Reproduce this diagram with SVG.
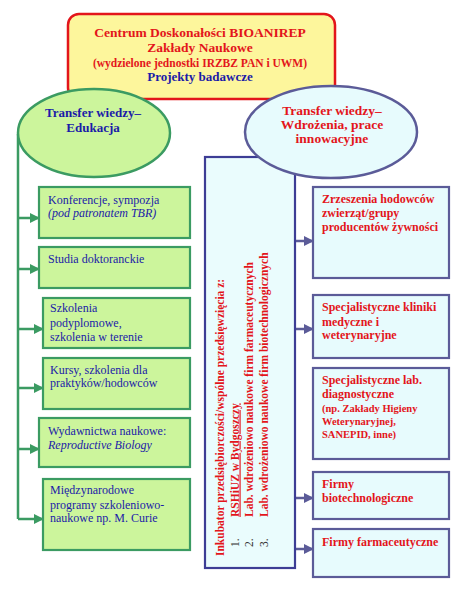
<svg xmlns="http://www.w3.org/2000/svg" width="468" height="595" viewBox="0 0 468 595">
<style>
.t{font-family:"Liberation Serif","Times New Roman",serif}
.b{font-weight:bold}
.red{fill:#e3151b}
.blue{fill:#1b1ba8}
.gbox{fill:#ccf59c;stroke:#3b9b62;stroke-width:2.2}
.cbox{fill:#e7fbfd;stroke:#5b5b98;stroke-width:2.2}
.gl{stroke:#3b9b62;stroke-width:2.5;fill:none}
.bl{stroke:#5b5b98;stroke-width:2.5;fill:none}
.gt{font-size:12px}
.rt{font-size:12px}
.vt{font-size:11.5px}
</style>
<defs>
<marker id="ga" viewBox="0 0 10 10" refX="9" refY="5" markerWidth="4" markerHeight="4" orient="auto" markerUnits="strokeWidth"><path d="M0,0L10,5L0,10z" fill="#3b9b62"/></marker>
<marker id="ba" viewBox="0 0 10 10" refX="9" refY="5" markerWidth="4" markerHeight="4" orient="auto" markerUnits="strokeWidth"><path d="M0,0L10,5L0,10z" fill="#5b5b98"/></marker>
</defs>
<rect width="468" height="595" fill="#ffffff"/>

<g id="top">
<rect x="68" y="14" width="267" height="85" rx="11" fill="#fdf69c" stroke="#e3151b" stroke-width="2.5"/>
<text class="t b red" x="200" y="37" font-size="13.5" text-anchor="middle">Centrum Doskonałości BIOANIREP</text>
<text class="t b red" x="200" y="52" font-size="13.5" text-anchor="middle">Zakłady Naukowe</text>
<text class="t b red" x="200" y="67" font-size="11.5" text-anchor="middle">(wydzielone jednostki IRZBZ PAN i UWM)</text>
<text class="t b blue" x="200" y="81" font-size="13" text-anchor="middle">Projekty badawcze</text>
</g>

<g id="connectors">
<path class="gl" d="M18,134V519"/>
<path class="gl" marker-end="url(#ga)" d="M18,218H39"/>
<path class="gl" marker-end="url(#ga)" d="M18,269H39"/>
<path class="gl" marker-end="url(#ga)" d="M18,329H43"/>
<path class="gl" marker-end="url(#ga)" d="M18,388H43"/>
<path class="gl" marker-end="url(#ga)" d="M18,449H39"/>
<path class="gl" marker-end="url(#ga)" d="M18,519H43"/>
<path class="bl" marker-end="url(#ba)" d="M295,241H313"/>
<path class="bl" marker-end="url(#ba)" d="M295,329H313"/>
<path class="bl" marker-end="url(#ba)" d="M295,498H313"/>
<path class="bl" marker-end="url(#ba)" d="M295,549H313"/>
</g>

<g id="edu">
<ellipse cx="94" cy="133" rx="76" ry="44" fill="#ccf59c" stroke="#3b9b62" stroke-width="2.5"/>
<text class="t b blue" x="93" y="117" font-size="13" text-anchor="middle">Transfer wiedzy–</text>
<text class="t b blue" x="93" y="132" font-size="13" text-anchor="middle">Edukacja</text>
</g>

<g id="inkubator">
<rect x="205" y="157" width="90" height="411" fill="#eafcfd" stroke="#3d3d95" stroke-width="2.2"/>
<g transform="rotate(-90)">
<text class="t b red vt" x="-556" y="224">Inkubator przedsiębiorczości/wspólne przedsięwzięcia z:</text>
<text class="t vt" x="-547" y="238.5" fill="#333">1.</text>
<text class="t b red vt" x="-517" y="238.5" text-decoration="underline">RSHiUZ w Bydgoszczy</text>
<text class="t vt" x="-547" y="253" fill="#333">2.</text>
<text class="t b red vt" x="-517" y="253">Lab. wdrożeniowo naukowe firm farmaceutycznych</text>
<text class="t vt" x="-547" y="267.5" fill="#333">3.</text>
<text class="t b red vt" x="-517" y="267.5">Lab. wdrożeniowo naukowe firm biotechnologicznych</text>
</g>
</g>

<g id="wdr">
<ellipse cx="331" cy="132" rx="86" ry="46" fill="#e7fbfd" stroke="#5b5b98" stroke-width="2.5"/>
<text class="t b red" x="332" y="115" font-size="13.5" text-anchor="middle">Transfer wiedzy–</text>
<text class="t b red" x="332" y="129" font-size="13.5" text-anchor="middle">Wdrożenia, prace</text>
<text class="t b red" x="332" y="143" font-size="13.5" text-anchor="middle">innowacyjne</text>
</g>

<g id="g1"><rect class="gbox" x="39" y="187" width="151" height="51"/>
<text class="t gt blue" x="48" y="204">Konferencje, sympozja</text>
<text class="t gt blue" x="48" y="217" font-style="italic">(pod patronatem TBR)</text></g>
<g id="g2"><rect class="gbox" x="39" y="247" width="151" height="41"/>
<text class="t gt blue" x="48" y="263">Studia doktoranckie</text></g>
<g id="g3"><rect class="gbox" x="43" y="298" width="147" height="50"/>
<text class="t gt blue" x="50" y="312">Szkolenia</text>
<text class="t gt blue" x="50" y="327">podyplomowe,</text>
<text class="t gt blue" x="50" y="341">szkolenia w terenie</text></g>
<g id="g4"><rect class="gbox" x="43" y="358" width="147" height="51"/>
<text class="t gt blue" x="50" y="374">Kursy, szkolenia dla</text>
<text class="t gt blue" x="50" y="387">praktyków/hodowców</text></g>
<g id="g5"><rect class="gbox" x="39" y="418" width="151" height="49"/>
<text class="t gt blue" x="48" y="435">Wydawnictwa naukowe:</text>
<text class="t gt blue" x="48" y="449" font-style="italic">Reproductive Biology</text></g>
<g id="g6"><rect class="gbox" x="43" y="479" width="147" height="71"/>
<text class="t gt blue" x="50" y="494">Międzynarodowe</text>
<text class="t gt blue" x="50" y="509">programy szkoleniowo-</text>
<text class="t gt blue" x="50" y="522">naukowe np. M. Curie</text></g>

<g id="r1"><rect class="cbox" x="313" y="187" width="136" height="91"/>
<text class="t b rt red" x="322" y="203">Zrzeszenia hodowców</text>
<text class="t b rt red" x="322" y="217">zwierząt/grupy</text>
<text class="t b rt red" x="322" y="231">producentów żywności</text></g>
<g id="r2"><rect class="cbox" x="313" y="295" width="136" height="63"/>
<text class="t b rt red" x="322" y="311">Specjalistyczne kliniki</text>
<text class="t b rt red" x="322" y="326">medyczne i</text>
<text class="t b rt red" x="322" y="339">weterynaryjne</text></g>
<g id="r3"><rect class="cbox" x="313" y="368" width="136" height="91"/>
<text class="t b rt red" x="322" y="384">Specjalistyczne lab.</text>
<text class="t b rt red" x="322" y="398">diagnostyczne</text>
<text class="t b red" x="322" y="412" font-size="10.5">(np. Zakłady Higieny</text>
<text class="t b red" x="322" y="425" font-size="10.5">Weterynaryjnej,</text>
<text class="t b red" x="322" y="438" font-size="10.5">SANEPID, inne)</text></g>
<g id="r4"><rect class="cbox" x="313" y="472" width="136" height="47"/>
<text class="t b rt red" x="322" y="488">Firmy</text>
<text class="t b rt red" x="322" y="502">biotechnologiczne</text></g>
<g id="r5"><rect class="cbox" x="313" y="529" width="136" height="48"/>
<text class="t b rt red" x="322" y="546">Firmy farmaceutyczne</text></g>
</svg>
